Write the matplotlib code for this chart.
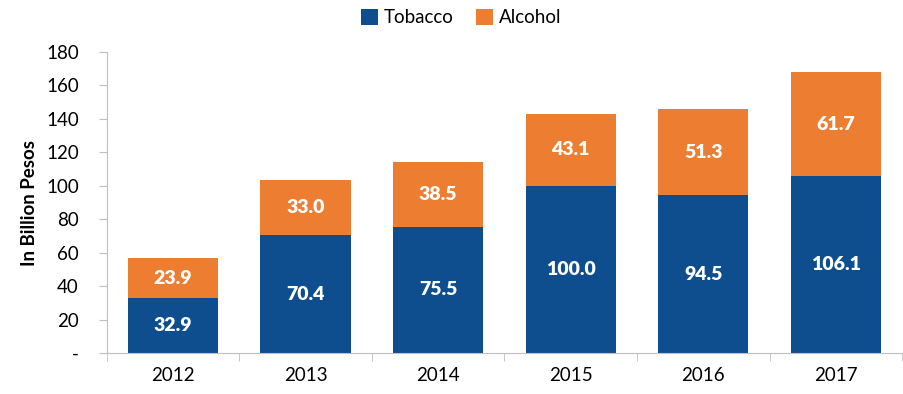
import numpy as np
import matplotlib.pyplot as plt

plt.rcParams['font.family'] = ['Lato', 'DejaVu Sans']

years = ['2012', '2013', '2014', '2015', '2016', '2017']
tobacco = [32.9, 70.4, 75.5, 100.0, 94.5, 106.1]
alcohol = [23.9, 33.0, 38.5, 43.1, 51.3, 61.7]

c_tob = '#0E4D8E'
c_alc = '#ED7D31'

fig = plt.figure(figsize=(9.04, 3.94), dpi=100)
ax = fig.add_axes([0.118, 0.104, 0.88, 0.764])

x = np.arange(len(years))
w = 0.68
b1 = ax.bar(x, tobacco, w, color=c_tob, label='Tobacco')
b2 = ax.bar(x, alcohol, w, bottom=tobacco, color=c_alc, label='Alcohol')

for i in range(len(years)):
    ax.text(x[i], tobacco[i] / 2, f'{tobacco[i]:.1f}', ha='center', va='center',
            color='white', fontsize=14, fontweight='heavy')
    ax.text(x[i], tobacco[i] + alcohol[i] / 2, f'{alcohol[i]:.1f}', ha='center', va='center',
            color='white', fontsize=14, fontweight='heavy')

ax.set_xlim(-0.5, len(years) - 0.5)
ax.set_ylim(0, 180)
ax.set_yticks(range(0, 181, 20))
ax.set_yticklabels(['-'] + [str(v) for v in range(20, 181, 20)], fontsize=13.5)
ax.set_xticks(x)
ax.set_xticklabels(years, fontsize=13.5)
ax.set_xticks(np.arange(-0.5, len(years), 1), minor=True)
ax.tick_params(axis='x', which='major', length=0, pad=10)
ax.tick_params(axis='x', which='minor', length=6, color='#BFBFBF', direction='out')
ax.tick_params(axis='y', length=6, color='#BFBFBF', pad=14)

for s in ['top', 'right']:
    ax.spines[s].set_visible(False)
for s in ['left', 'bottom']:
    ax.spines[s].set_color('#BFBFBF')

ax.set_ylabel('In Billion Pesos', fontsize=13.5, fontweight='bold', labelpad=6)

fig.legend(handles=[b1, b2], loc='upper center', bbox_to_anchor=(0.51, 1.02), ncol=2,
           frameon=False, fontsize=13.5, handlelength=0.9, handleheight=0.9,
           handletextpad=0.3, columnspacing=1.2)

fig.savefig('out.png', dpi=100)
